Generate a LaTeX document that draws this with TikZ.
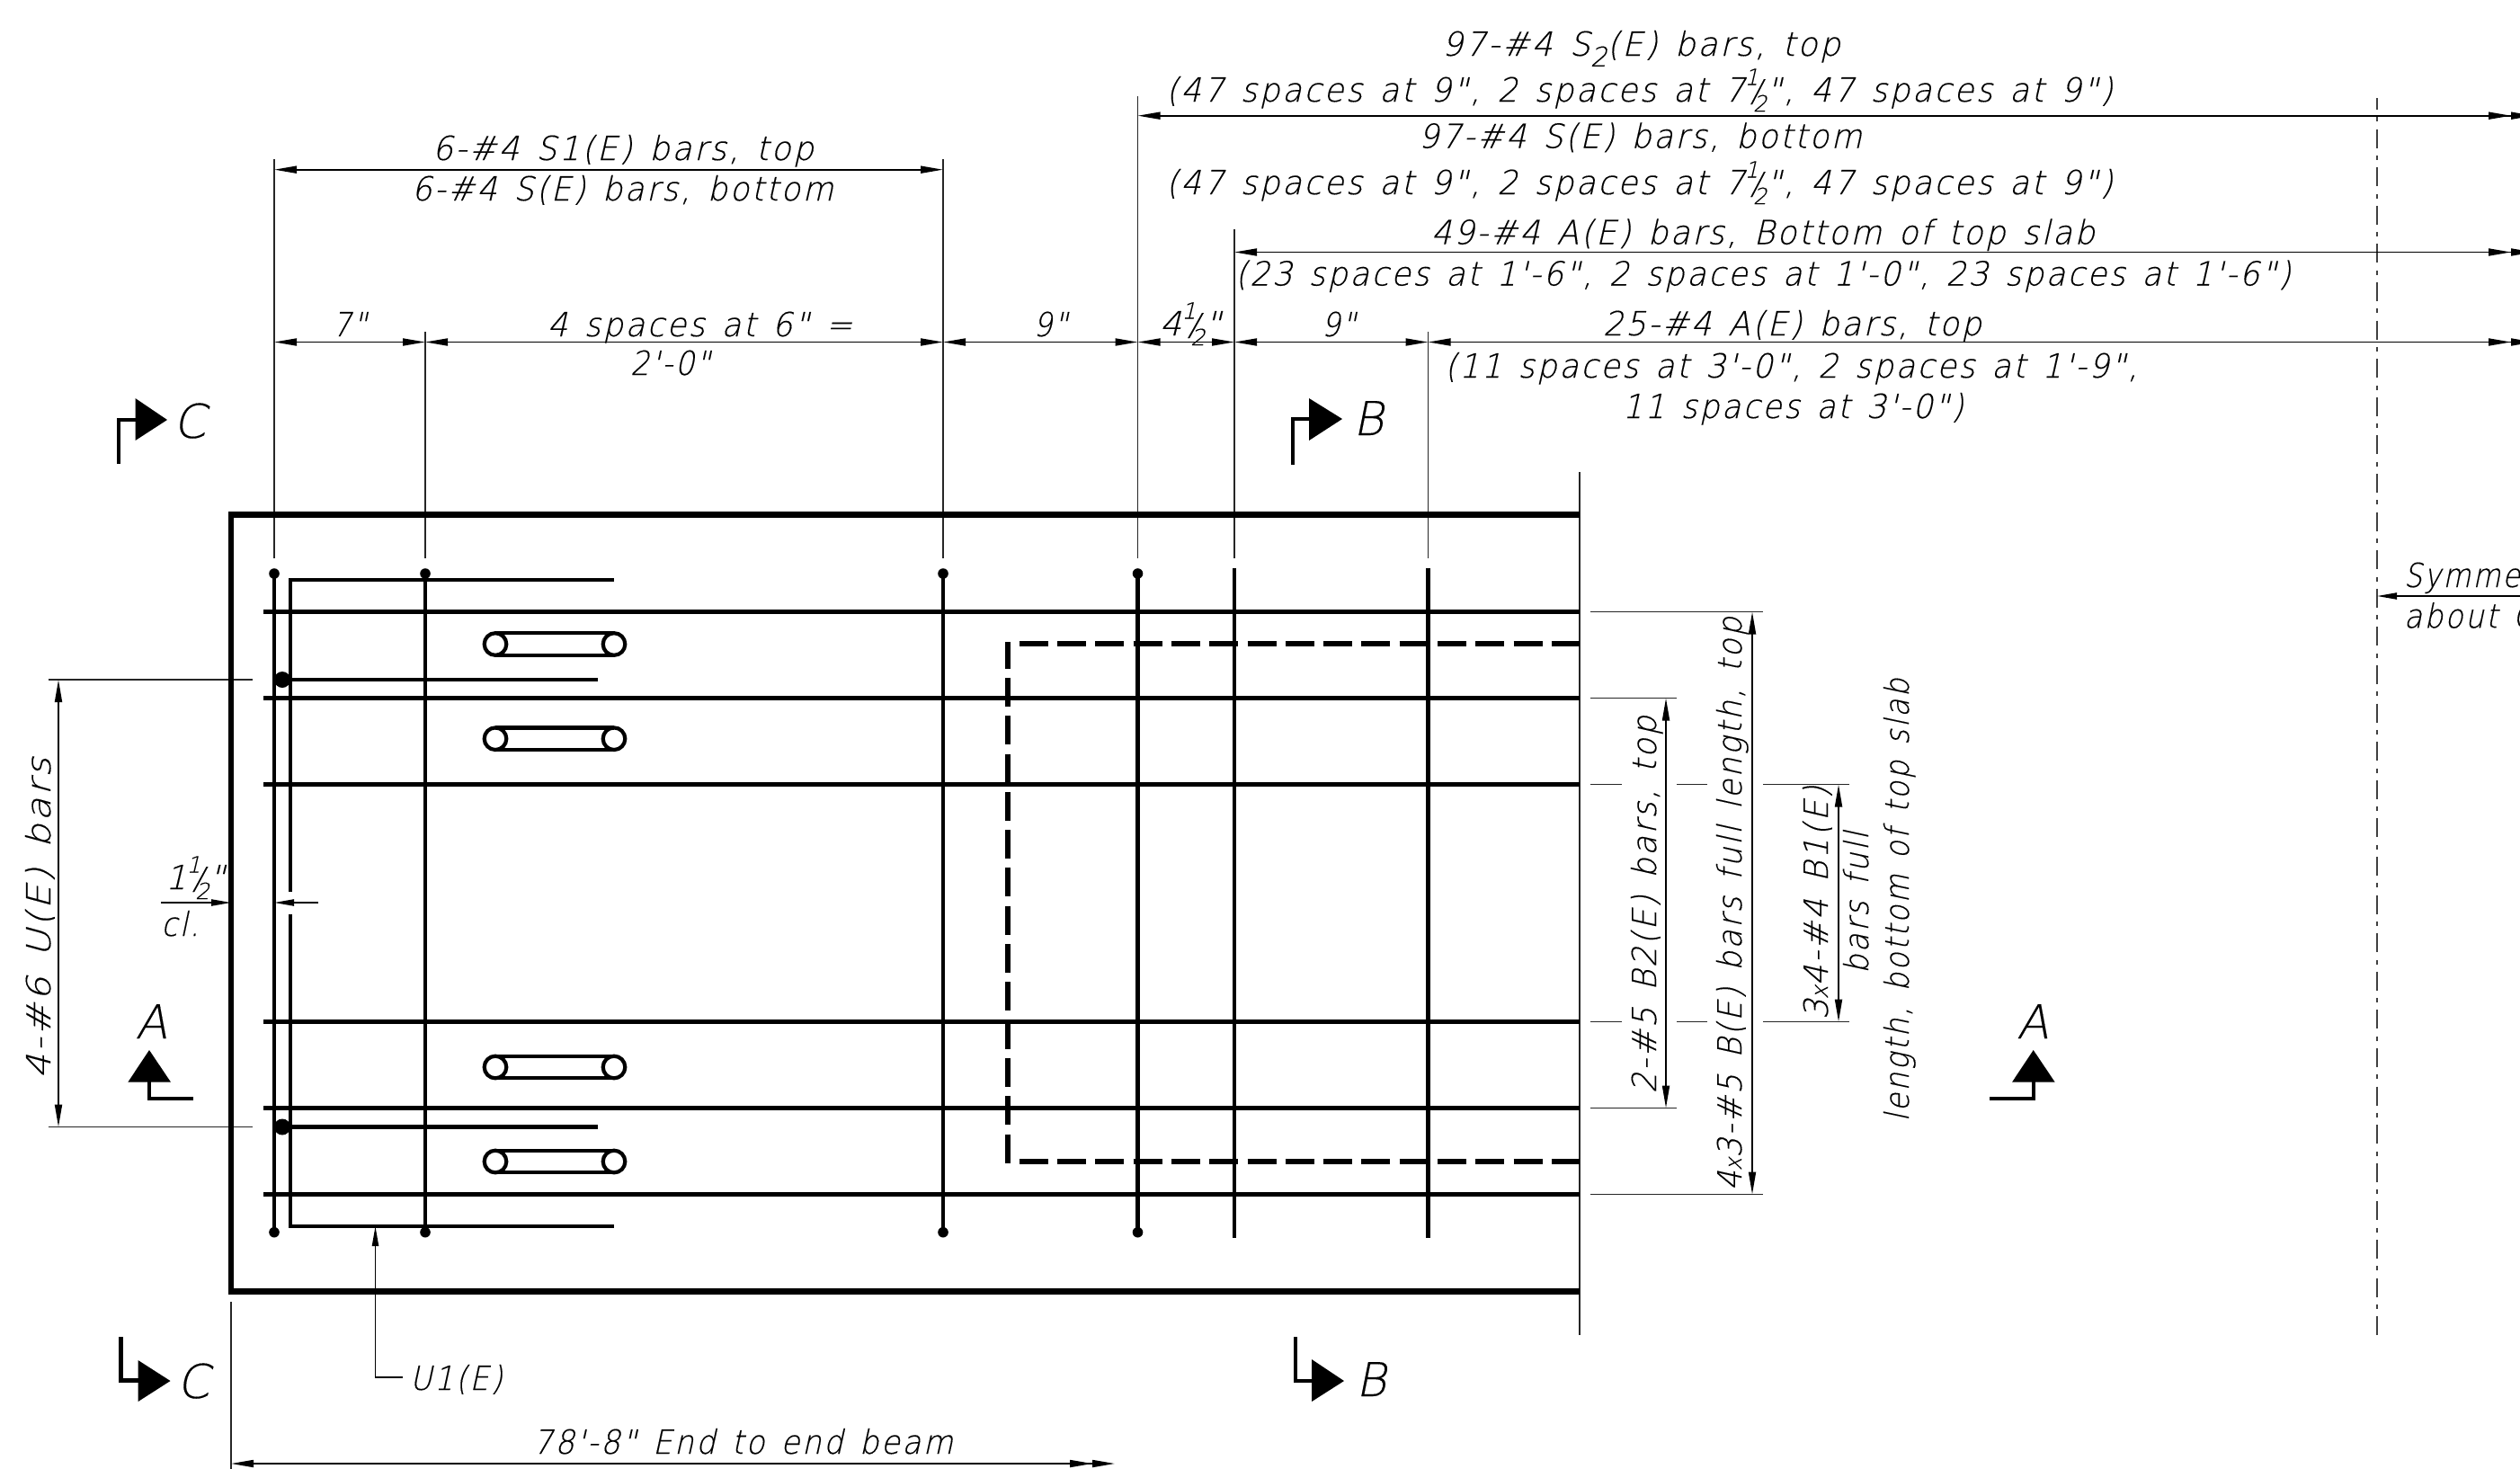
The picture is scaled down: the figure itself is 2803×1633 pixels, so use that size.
\documentclass[tikz,border=0pt]{standalone}
\usepackage{fontspec}
\usepackage{graphicx}
\usetikzlibrary{arrows.meta}
\newfontfamily\dfont{DejaVu Sans ExtraLight}[FakeSlant=0.2,FakeStretch=0.84,LetterSpace=6,WordSpace=1.35,FakeBold=0.25]
\newfontfamily\sfont{DejaVu Sans ExtraLight}[FakeSlant=0.2,FakeBold=0.25]
\newcommand{\dtxt}{\dfont\fontsize{18.5pt}{20pt}\selectfont}
\newcommand{\stxt}{\sfont\fontsize{26pt}{28pt}\selectfont}
\newcommand{\frc}{\mbox{\raisebox{0.5em}{\fontsize{12.5pt}{13pt}\selectfont 1}\kern-0.2em{\fontsize{17pt}{17pt}\selectfont /}\kern-0.2em\raisebox{-0.3em}{\fontsize{12.5pt}{13pt}\selectfont 2}}}
\newcommand{\smx}{{\fontsize{13pt}{14pt}\selectfont x}}
% T: horizontal text, centre x, baseline y, width (all in px of the reference)
\newcommand{\T}[5]{\node[txt,anchor=base] (#1) at (#2,#3) {\resizebox{\dimexpr #4pt/2\relax}{\height}{\dtxt #5}};}
% R: rotated text, baseline x, centre y, length
\newcommand{\R}[5]{\node[txt,anchor=base,rotate=90] (#1) at (#2,#3) {\resizebox{\dimexpr #4pt/2\relax}{\height}{\dtxt #5}};}
% S: section letter, centre x, baseline y
\newcommand{\Sc}[4]{\node[txt,anchor=base] (#1) at (#2,#3) {\stxt #4};}
% L: line between two named coordinates
\newcommand{\Ln}[6]{\coordinate (#2-a) at (#3,#4); \coordinate (#2-b) at (#5,#6); \draw[#1] (#2-a) -- (#2-b);}
\tikzset{
  txt/.style={inner sep=0pt,outer sep=0pt,text=black},
  thin line/.style={line width=0.8pt,draw=black!85},
  dimln/.style={line width=0.9pt,draw=black,{Triangle[length=12.5pt,width=4pt]}-{Triangle[length=12.5pt,width=4pt]}},
  dimdbl/.style={line width=0.9pt,draw=black,{Triangle[length=12.5pt,width=4pt]}-{Triangle[length=12.5pt,width=4pt]Triangle[length=12.5pt,width=4pt]}},
  onetip/.style={line width=0.8pt,draw=black,-{Triangle[length=11pt,width=3.6pt]}},
  bar/.style={line width=2.1pt,draw=black},
  edge line/.style={line width=3.2pt,draw=black},
  hidden/.style={line width=3.1pt,draw=black,dash pattern=on 16pt off 5.15pt},
  centreline/.style={line width=0.85pt,draw=black!75,dash pattern=on 10.5pt off 4.15pt on 2.5pt off 4.15pt},
  sect/.style={line width=2.1pt,draw=black,line cap=rect},
}
\begin{document}
\begin{tikzpicture}[x=0.5pt,y=-0.5pt]
\useasboundingbox (0,0) rectangle (2803,1633);
\clip (0,0) rectangle (2803,1633);

% ---- extension lines
\Ln{thin line}{e1}{305}{177}{305}{621}
\Ln{thin line}{e2}{473}{369}{473}{621}
\Ln{thin line}{e3}{1049}{177}{1049}{621}
\Ln{thin line}{e4}{1265.5}{107}{1265.5}{621}
\Ln{thin line}{e5}{1373}{255}{1373}{621}
\Ln{thin line}{e6}{1588.5}{369}{1588.5}{621}
\Ln{thin line}{e7}{1757}{525}{1757}{1485}
\Ln{thin line}{e8}{257}{1448}{257}{1640}
\Ln{thin line}{e9}{53.5}{756}{281}{756}
\Ln{thin line}{e10}{53.5}{1253.5}{281}{1253.5}
% right-hand extension lines
\Ln{thin line}{r1}{1769}{680.5}{1961}{680.5}
\Ln{thin line}{r2}{1769}{776.5}{1865}{776.5}
\Ln{thin line}{r3a}{1769}{872.5}{1804}{872.5}
\Ln{thin line}{r3b}{1865}{872.5}{1899}{872.5}
\Ln{thin line}{r3c}{1961}{872.5}{2057}{872.5}
\Ln{thin line}{r4a}{1769}{1136.5}{1804}{1136.5}
\Ln{thin line}{r4b}{1865}{1136.5}{1899}{1136.5}
\Ln{thin line}{r4c}{1961}{1136.5}{2057}{1136.5}
\Ln{thin line}{r5}{1769}{1232.5}{1865}{1232.5}
\Ln{thin line}{r6}{1769}{1328.5}{1961}{1328.5}

% ---- centre line
\draw[centreline,dash phase=4pt] (2644,109) coordinate (cl-a) -- (2644,1485.5) coordinate (cl-b);

% ---- horizontal dimensions
\coordinate (a1) at (305,188.7); \coordinate (a2) at (1049,188.7);
\draw[dimln] (a1) -- (a2);
\coordinate (b0) at (305,380.5); \coordinate (b1) at (473,380.5); \coordinate (b2) at (1049,380.5);
\coordinate (b3) at (1265.5,380.5); \coordinate (b4) at (1373,380.5); \coordinate (b5) at (1588.5,380.5); \coordinate (b6) at (2818,380.5);
\draw[dimln] (b0) -- (b1);
\draw[dimln] (b1) -- (b2);
\draw[dimln] (b2) -- (b3);
\draw[dimln] (b3) -- (b4);
\draw[dimln] (b4) -- (b5);
\draw[dimdbl] (b5) -- (b6);
\Ln{dimdbl}{d97}{1265.5}{128.7}{2818}{128.7}
\Ln{dimdbl}{d49}{1373}{280.5}{2818}{280.5}
\Ln{dimdbl}{d78}{257}{1628}{1240}{1628}

% ---- vertical dimensions
\Ln{dimln}{v1}{65}{756}{65}{1253.5}
\Ln{dimln}{v2}{1853}{776.5}{1853}{1232.5}
\Ln{dimln}{v3}{1949}{680.5}{1949}{1328.5}
\Ln{dimln}{v4}{2045}{872.5}{2045}{1136.5}

% ---- clearance arrows and leaders
\Ln{onetip}{c1}{179}{1004}{257}{1004}
\Ln{onetip}{c2}{353.6}{1004}{305}{1004}
\Ln{onetip}{sy}{2818}{663}{2644}{663}
\coordinate (u1-a) at (448,1532); \coordinate (u1-k) at (417.5,1532); \coordinate (u1-b) at (417.5,1364);
\draw[onetip] (u1-a) -- (u1-k) -- (u1-b);

% ---- slab edges
\coordinate (s1) at (1757,572.5); \coordinate (s2) at (257,572.5); \coordinate (s3) at (257,1436.5); \coordinate (s4) at (1757,1436.5);
\draw[edge line] (s1) -- (s2) -- (s3) -- (s4);

% ---- longitudinal bars
\foreach \yy/\nm in {680.5/l1,776.5/l2,872.5/l3,1136.5/l4,1232.5/l5,1328.5/l6}{
  \Ln{bar}{\nm}{293}{\yy}{1757}{\yy}
}
% ---- transverse bars with dots
\foreach \xx/\nm in {305/t1,473/t2,1049/t3,1265.5/t4}{
  \Ln{bar}{\nm}{\xx}{638}{\xx}{1370.7}
  \fill (\xx,638) circle[radius=5.8];
  \fill (\xx,1370.7) circle[radius=5.8];
}
\Ln{bar}{t5}{1373}{632}{1373}{1377}
\Ln{bar}{t6}{1588.5}{632}{1588.5}{1377}

% ---- U bars
\coordinate (ua) at (682.5,645); \coordinate (ub) at (323,645); \coordinate (uc) at (323,992);
\draw[bar] (ua) -- (ub) -- (uc);
\coordinate (ud) at (323,1016.7); \coordinate (ue) at (323,1364); \coordinate (uf) at (683,1364);
\draw[bar] (ud) -- (ue) -- (uf);
\Ln{bar}{u2}{314}{756}{665}{756}
\Ln{bar}{u3}{314}{1253.5}{665}{1253.5}
\fill (314,756) circle[radius=9];
\fill (314,1253.5) circle[radius=9];

% ---- ovals
\foreach \yy/\nm in {716.5/o1,821.7/o2,1187/o3,1292/o4}{
  \draw[bar] (551,\yy) circle[radius=12.3];
  \draw[bar] (683,\yy) circle[radius=12.3];
  \draw[bar] (551,\yy) ++(0,-12.3) -- ++(132,0);
  \draw[bar] (551,\yy) ++(0,12.3) -- ++(132,0);
}

% ---- dashed bars
\Ln{hidden}{h1}{1133.7}{716.3}{1757}{716.3}
\Ln{hidden}{h2}{1133.7}{1292}{1757}{1292}
\draw[hidden,dash phase=1.2pt] (1121,714) coordinate (h3-a) -- (1121,1293.5) coordinate (h3-b);

% ---- section marks
\fill (150.5,443) -- (186,467) -- (150.5,490) -- cycle;
\coordinate (mc1) at (132,514); \coordinate (mc2) at (132,467); \coordinate (mc3) at (152,467);
\draw[sect] (mc1) -- (mc2) -- (mc3);
\fill (153.6,1513) -- (189.5,1536) -- (153.6,1559) -- cycle;
\coordinate (mc4) at (134.4,1489); \coordinate (mc5) at (134.4,1535.5); \coordinate (mc6) at (155,1535.5);
\draw[sect] (mc4) -- (mc5) -- (mc6);
\fill (1456,443) -- (1493,466) -- (1456,490) -- cycle;
\coordinate (mb1) at (1438,515); \coordinate (mb2) at (1438,466); \coordinate (mb3) at (1458,466);
\draw[sect] (mb1) -- (mb2) -- (mb3);
\fill (1459,1512) -- (1495,1536) -- (1459,1559) -- cycle;
\coordinate (mb4) at (1441,1489); \coordinate (mb5) at (1441,1536); \coordinate (mb6) at (1461,1536);
\draw[sect] (mb4) -- (mb5) -- (mb6);
\fill (166,1168) -- (190,1203.7) -- (142.3,1203.7) -- cycle;
\coordinate (ma1) at (166,1202); \coordinate (ma2) at (166,1222); \coordinate (ma3) at (213,1222);
\draw[sect] (ma1) -- (ma2) -- (ma3);
\fill (2261.7,1168) -- (2285.7,1203.7) -- (2238,1203.7) -- cycle;
\coordinate (ma4) at (2261.7,1202); \coordinate (ma5) at (2261.7,1222); \coordinate (ma6) at (2215,1222);
\draw[sect] (ma4) -- (ma5) -- (ma6);
\Sc{lc1}{211}{487}{C}
\Sc{lc2}{215}{1555}{C}
\Sc{lb1}{1522}{484}{B}
\Sc{lb2}{1525}{1553}{B}
\Sc{la1}{168.5}{1155}{A}
\Sc{la2}{2261}{1155}{A}

% ---- texts
\T{t1}{1825.5}{62}{443}{97-\#4 S\raisebox{-0.32em}{\fontsize{15pt}{16pt}\selectfont 2}(E) bars, top}
\T{t2}{1823.5}{113}{1053}{(47 spaces at 9", 2 spaces at 7\frc", 47 spaces at 9")}
\T{t3}{1824.5}{164.5}{493}{97-\#4 S(E) bars, bottom}
\T{t4}{1823.5}{216}{1053}{(47 spaces at 9", 2 spaces at 7\frc", 47 spaces at 9")}
\T{t5}{1961}{271.5}{738}{49-\#4 A(E) bars, Bottom of top slab}
\T{t6}{1961}{317.5}{1174}{(23 spaces at 1'-6", 2 spaces at 1'-0", 23 spaces at 1'-6")}
\T{t7}{1993.5}{373}{421}{25-\#4 A(E) bars, top}
\T{t8}{1992.5}{420}{771}{(11 spaces at 3'-0", 2 spaces at 1'-9",}
\T{t9}{1994.5}{465}{379}{11 spaces at 3'-0")}
\T{t10}{693}{178}{424}{6-\#4 S1(E) bars, top}
\T{t11}{692.5}{223}{469}{6-\#4 S(E) bars, bottom}
\T{t12}{389}{374}{38}{7"}
\T{t13}{778.5}{374}{339}{4 spaces at 6" =}
\T{t14}{745.5}{417}{89}{2'-0"}
\T{t15}{1168.5}{374}{38}{9"}
\T{t16}{1324}{373}{68}{4\frc"}
\T{t17}{1489}{374}{38}{9"}
\T{t18}{507.5}{1546}{103}{U1(E)}
\T{t19}{826.5}{1617}{467}{78'-8" End to end beam}
\T{t20}{217}{989}{66}{1\frc"}
\T{t21}{200.5}{1041}{42}{cl.}
\T{t22}{2738.5}{653}{129}{Symme}
\T{t23}{2746}{698.3}{144}{about C}
\R{t24}{56}{1021}{357}{4-\#6 U(E) bars}
\R{t25}{1842}{1006}{420}{2-\#5 B2(E) bars, top}
\R{t26}{1937}{1005}{638}{4\smx 3-\#5 B(E) bars full length, top}
\R{t27}{2033}{1004}{260}{3\smx 4-\#4 B1(E)}
\R{t28}{2078}{1004}{158}{bars full}
\R{t29}{2123}{1001}{493}{length, bottom of top slab}
\end{tikzpicture}
\end{document}
